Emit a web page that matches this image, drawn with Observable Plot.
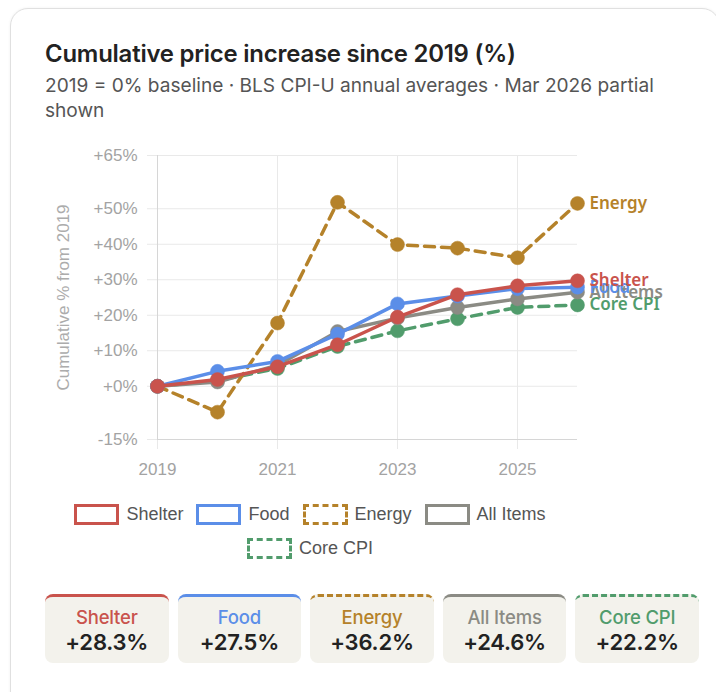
<!DOCTYPE html>
<html>
<head>
<meta charset="utf-8">
<script src="https://cdn.jsdelivr.net/npm/d3@7"></script>
<script src="https://cdn.jsdelivr.net/npm/@observablehq/plot@0.6"></script>
<style>
  html, body { margin: 0; padding: 0; background: #fff; width: 716px; height: 692px; overflow: hidden; }
  #card { position: absolute; left: 10px; top: 8px; width: 708px; height: 700px; border: 1px solid #e0e0e0; border-radius: 18px; background: #fff; box-shadow: 0 0 3px rgba(0,0,0,0.06); }
  #title { position: absolute; left: 45px; top: 39px; font-family: Inter, sans-serif; font-weight: 600; font-size: 23.9px; line-height: 30px; color: #222; white-space: nowrap; letter-spacing: -0.2px; }
  #subtitle { position: absolute; left: 45px; top: 73px; font-family: Inter, sans-serif; font-size: 19.1px; line-height: 25px; color: #555; white-space: nowrap; }
  #chart { position: absolute; left: 40px; top: 140px; }
  #legend { position: absolute; left: 60px; top: 497px; width: 500px; display: flex; flex-wrap: wrap; justify-content: center; column-gap: 13px; font-family: "Liberation Sans", Arial, sans-serif; font-size: 18px; color: #555; }
  .li { display: flex; align-items: center; height: 34px; }
  .sw { width: 39px; height: 15px; border-width: 3px; background: #fff; margin-right: 7px; }
  #cards { position: absolute; left: 45px; top: 594px; width: 654px; display: flex; gap: 9px; }
  .cd { flex: 1; height: 66px; background: #f3f2ec; border-radius: 8px; border-top-width: 3px; text-align: center; font-family: Inter, sans-serif; }
  .cl { font-size: 18.5px; font-weight: 500; margin-top: 9px; line-height: 22px; letter-spacing: -0.2px; }
  .cv { font-size: 22px; font-weight: 600; color: #222; line-height: 26px; margin-top: 1px; letter-spacing: -0.2px; }
</style>
</head>
<body>
<div id="card"></div>
<div id="title">Cumulative price increase since 2019 (%)</div>
<div id="subtitle">2019 = 0% baseline · BLS CPI-U annual averages · Mar 2026 partial<br>shown</div>
<div id="chart"></div>
<div id="legend"></div>
<div id="cards"></div>
<script>
// ---- data (cumulative % change from 2019) ----
const years = [2019, 2020, 2021, 2022, 2023, 2024, 2025, 2026];
const shelter = [0, 1.9, 5.5, 11.7, 19.5, 25.8, 28.3, 29.7];
const food = [0, 4.2, 7.0, 14.7, 23.2, 25.4, 27.5, 27.9];
const energy = [0, -7.3, 17.8, 51.8, 39.9, 38.9, 36.2, 51.5];
const allItems = [0, 1.2, 5.9, 15.4, 19.2, 22.2, 24.6, 26.5];
const coreCPI = [0, 1.6, 5.0, 11.2, 15.6, 19.0, 22.2, 22.9];

const seriesNames = ["Shelter", "Food", "Energy", "All Items", "Core CPI"];
const seriesColors = ["#c9534c", "#5b8ee8", "#b5822a", "#8b8b84", "#519c6c"];
const seriesDashed = [false, false, true, false, true];
const seriesValues = [shelter, food, energy, allItems, coreCPI];

const yTicks = [-15, 0, 10, 20, 30, 40, 50, 65];
const xTicks = [2019, 2021, 2023, 2025];
const cardYear = 2025;
const yLabel = "Cumulative % from 2019";

const series = seriesNames.map((name, i) => ({
  name, color: seriesColors[i], dashed: seriesDashed[i],
  rows: years.map((year, j) => ({year, value: seriesValues[i][j], name}))
}));

const fmtY = d => (d >= 0 ? "+" : "") + d + "%";

const marks = [
  Plot.ruleY(yTicks, {y: d => d, stroke: "#e9e9e9", strokeWidth: 1, insetLeft: -10}),
  Plot.ruleX(xTicks, {x: d => d, stroke: "#e9e9e9", strokeWidth: 1, insetBottom: -10}),
  Plot.ruleX([2019], {x: d => d, stroke: "#d6d6d6", strokeWidth: 1}),
  Plot.ruleY([-15], {y: d => d, stroke: "#d6d6d6", strokeWidth: 1}),
  Plot.text(yTicks, {x: () => 2019, y: d => d, text: fmtY, dx: -20, textAnchor: "end", fill: "#a3a3a3", fontSize: 17}),
  Plot.text(xTicks, {x: d => d, y: () => -15, text: d => String(d), dy: 30, fill: "#a3a3a3", fontSize: 17}),
  Plot.text([yLabel], {frameAnchor: "left", text: d => d, rotate: -90, textAnchor: "middle", dx: -94, fill: "#acacac", fontSize: 17})
];

for (const s of series.slice().reverse()) {
  marks.push(Plot.line(s.rows, {x: "year", y: "value", stroke: s.color, strokeWidth: 3.5, strokeDasharray: s.dashed ? "10,7" : null}));
  marks.push(Plot.dot(s.rows, {x: "year", y: "value", r: 7, fill: s.color, stroke: s.color, strokeWidth: 0.5}));
}
for (const s of series.slice().reverse()) {
  marks.push(Plot.text([s.rows[s.rows.length - 1]], {x: "year", y: "value", text: "name", dx: 12, textAnchor: "start", fill: s.color, fontSize: 17, fontWeight: 600, fontFamily: "Noto Sans"}));
}

const chart = Plot.plot({
  width: 660, height: 345,
  marginLeft: 117, marginRight: 123, marginTop: 15, marginBottom: 46,
  x: {domain: [2019, 2026], axis: null},
  y: {domain: [-15, 65], axis: null},
  style: {background: "transparent", overflow: "visible", fontFamily: "'Liberation Sans', Arial, sans-serif"},
  marks
});
document.getElementById("chart").appendChild(chart);

// legend
const legend = document.getElementById("legend");
for (const s of series) {
  const item = document.createElement("div");
  item.className = "li";
  const sw = document.createElement("div");
  sw.className = "sw";
  sw.style.borderStyle = s.dashed ? "dashed" : "solid";
  sw.style.borderColor = s.color;
  item.appendChild(sw);
  const t = document.createElement("span");
  t.textContent = s.name;
  item.appendChild(t);
  legend.appendChild(item);
}

// stat cards
const cards = document.getElementById("cards");
const yi = years.indexOf(cardYear);
for (const s of series) {
  const c = document.createElement("div");
  c.className = "cd";
  c.style.borderTopStyle = s.dashed ? "dashed" : "solid";
  c.style.borderTopColor = s.color;
  const v = s.rows[yi].value;
  c.innerHTML = `<div class="cl" style="color:${s.color}">${s.name}</div><div class="cv">${(v >= 0 ? "+" : "") + v.toFixed(1)}%</div>`;
  cards.appendChild(c);
}
</script>
</body>
</html>
